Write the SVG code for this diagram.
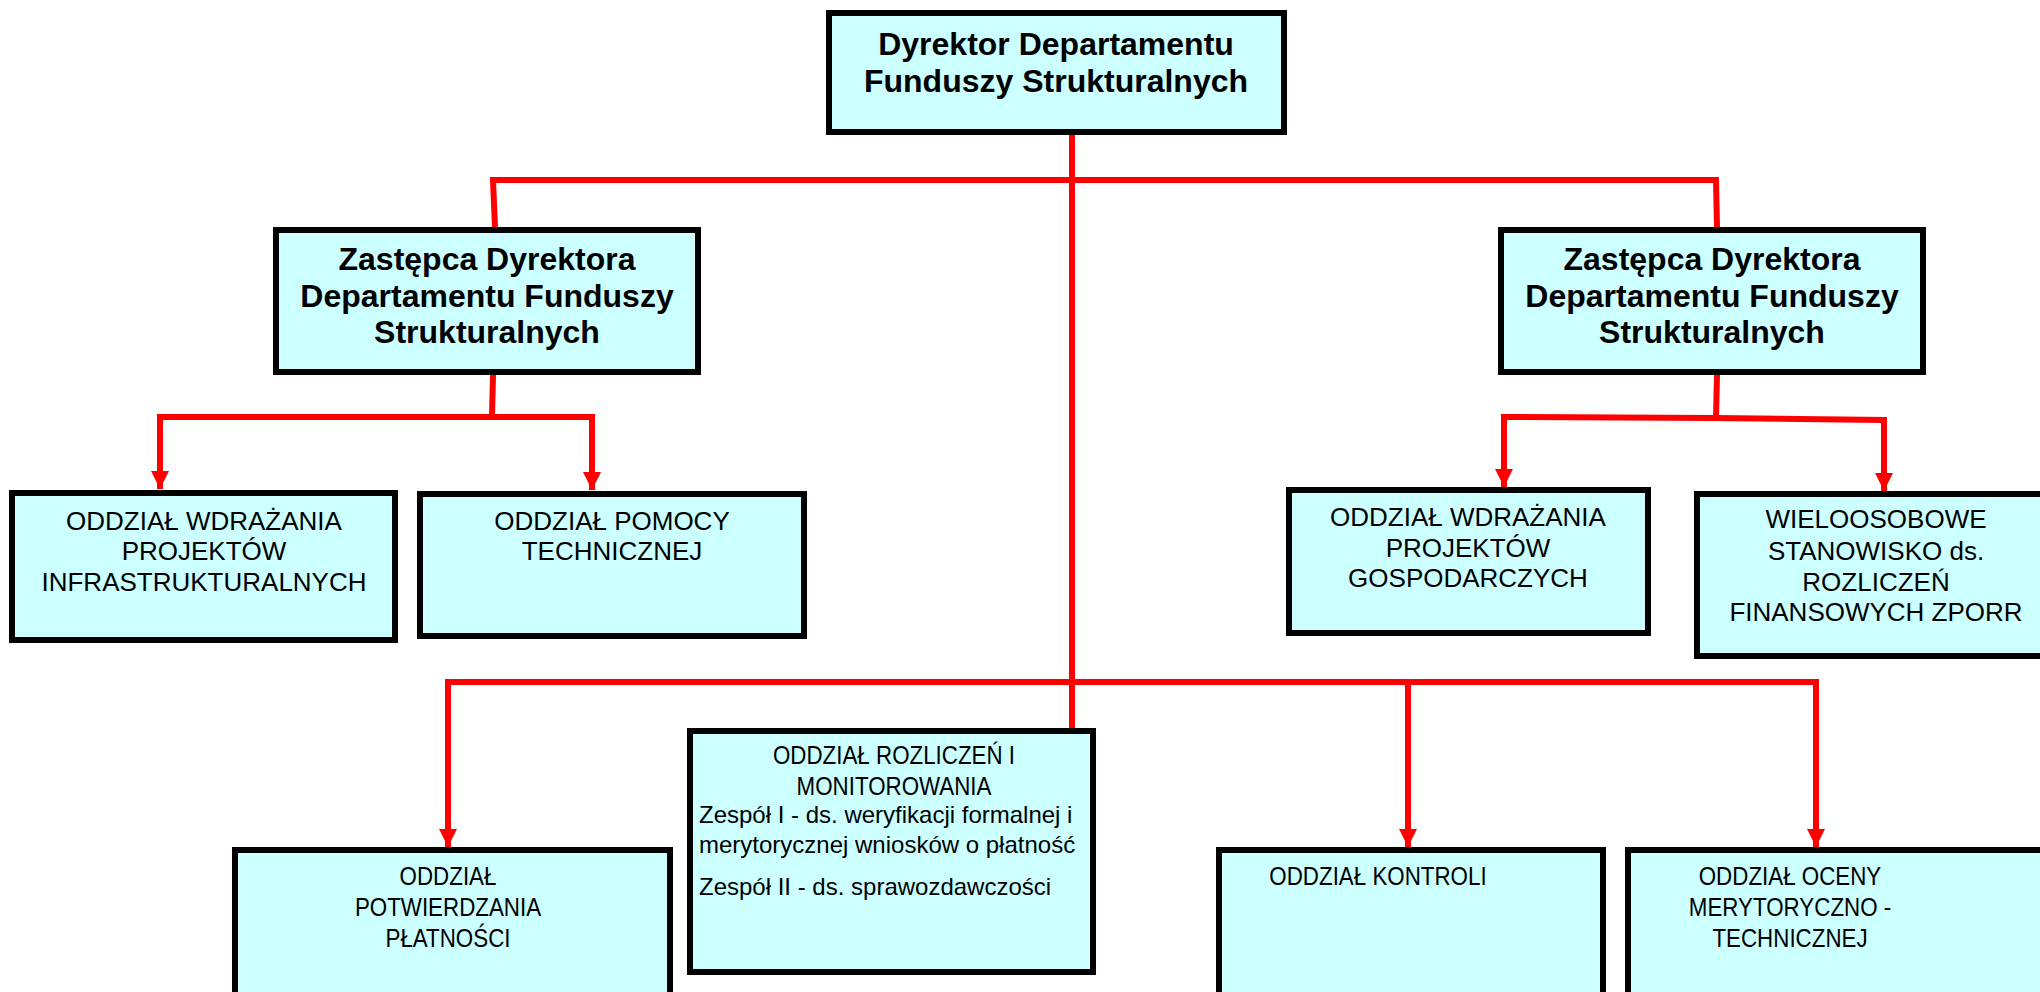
<svg xmlns="http://www.w3.org/2000/svg" width="2040" height="992" viewBox="0 0 2040 992">
<style>
.box{fill:#CCFFFF;stroke:#000;stroke-width:6}
.b{font-family:"Liberation Sans",Arial,sans-serif;font-weight:bold;font-size:32px;fill:#000;text-anchor:middle}
.t{font-family:"Liberation Sans",Arial,sans-serif;font-size:26px;fill:#000;text-anchor:middle}
.s{font-family:"Liberation Sans",Arial,sans-serif;font-size:24px;fill:#000}
.c{fill:none;stroke:#FF0000;stroke-width:6;stroke-linejoin:miter}
</style>
<defs>
<marker id="ah" markerUnits="userSpaceOnUse" markerWidth="18" markerHeight="18" refX="18" refY="9" orient="auto">
<path d="M0,0 L18,9 L0,18 Z" fill="#FF0000"/>
</marker>
</defs>
<rect width="2040" height="992" fill="#fff"/>
<g id="connectors">
<path class="c" d="M1072,135 L1072,728"/>
<path class="c" d="M495,227 L493,180 L1716,180 L1717,227"/>
<path class="c" d="M493,375 L492,417"/>
<path class="c" d="M492,417 L160,417 L160,489" marker-end="url(#ah)"/>
<path class="c" d="M492,417 L592,417 L592,490" marker-end="url(#ah)"/>
<path class="c" d="M1717,375 L1716,418"/>
<path class="c" d="M1716,418 L1504,417 L1504,487" marker-end="url(#ah)"/>
<path class="c" d="M1716,418 L1884,420 L1884,491" marker-end="url(#ah)"/>
<path class="c" d="M1072,682 L448,682 L448,847" marker-end="url(#ah)"/>
<path class="c" d="M1072,682 L1816,682 L1816,847" marker-end="url(#ah)"/>
<path class="c" d="M1408,682 L1408,847" marker-end="url(#ah)"/>
</g>
<g id="dyrektor">
<rect class="box" x="829" y="13" width="455" height="119"/>
<text class="b" x="1056" y="55">Dyrektor Departamentu</text>
<text class="b" x="1056" y="92">Funduszy Strukturalnych</text>
</g>
<g id="zastepca-lewy">
<rect class="box" x="276" y="230" width="422" height="142"/>
<text class="b" x="487" y="270">Zastępca Dyrektora</text>
<text class="b" x="487" y="307">Departamentu Funduszy</text>
<text class="b" x="487" y="343">Strukturalnych</text>
</g>
<g id="zastepca-prawy">
<rect class="box" x="1501" y="230" width="422" height="142"/>
<text class="b" x="1712" y="270">Zastępca Dyrektora</text>
<text class="b" x="1712" y="307">Departamentu Funduszy</text>
<text class="b" x="1712" y="343">Strukturalnych</text>
</g>
<g id="wdrazania-infra">
<rect class="box" x="12" y="493" width="383" height="147"/>
<text class="t" x="204" y="530">ODDZIAŁ WDRAŻANIA</text>
<text class="t" x="204" y="560">PROJEKTÓW</text>
<text class="t" x="204" y="591">INFRASTRUKTURALNYCH</text>
</g>
<g id="pomocy">
<rect class="box" x="420" y="494" width="384" height="142"/>
<text class="t" x="612" y="530">ODDZIAŁ POMOCY</text>
<text class="t" x="612" y="560">TECHNICZNEJ</text>
</g>
<g id="wdrazania-gosp">
<rect class="box" x="1289" y="490" width="359" height="143"/>
<text class="t" x="1468" y="526">ODDZIAŁ WDRAŻANIA</text>
<text class="t" x="1468" y="557">PROJEKTÓW</text>
<text class="t" x="1468" y="587">GOSPODARCZYCH</text>
</g>
<g id="wieloosobowe">
<rect class="box" x="1697" y="494" width="358" height="162"/>
<text class="t" x="1876" y="528">WIELOOSOBOWE</text>
<text class="t" x="1876" y="560">STANOWISKO ds.</text>
<text class="t" x="1876" y="591">ROZLICZEŃ</text>
<text class="t" x="1876" y="621">FINANSOWYCH ZPORR</text>
</g>
<g id="potwierdzania">
<rect class="box" x="235" y="850" width="435" height="150"/>
<g transform="translate(448,0) scale(0.86,1)">
<text class="t" x="0" y="885">ODDZIAŁ</text>
<text class="t" x="0" y="916">POTWIERDZANIA</text>
<text class="t" x="0" y="947">PŁATNOŚCI</text>
</g>
</g>
<g id="rozliczen">
<rect class="box" x="690" y="731" width="403" height="241"/>
<g transform="translate(894,0) scale(0.86,1)">
<text class="t" x="0" y="764">ODDZIAŁ ROZLICZEŃ I</text>
<text class="t" x="0" y="795">MONITOROWANIA</text>
</g>
<text class="s" x="699" y="823">Zespół I - ds. weryfikacji formalnej i</text>
<text class="s" x="699" y="853">merytorycznej wniosków o płatność</text>
<text class="s" x="699" y="895">Zespół II - ds. sprawozdawczości</text>
</g>
<g id="kontroli">
<rect class="box" x="1219" y="850" width="384" height="150"/>
<g transform="translate(1378,0) scale(0.86,1)">
<text class="t" x="0" y="885">ODDZIAŁ KONTROLI</text>
</g>
</g>
<g id="oceny">
<rect class="box" x="1628" y="850" width="420" height="150"/>
<g transform="translate(1790,0) scale(0.86,1)">
<text class="t" x="0" y="885">ODDZIAŁ OCENY</text>
<text class="t" x="0" y="916">MERYTORYCZNO -</text>
<text class="t" x="0" y="947">TECHNICZNEJ</text>
</g>
</g>
</svg>
